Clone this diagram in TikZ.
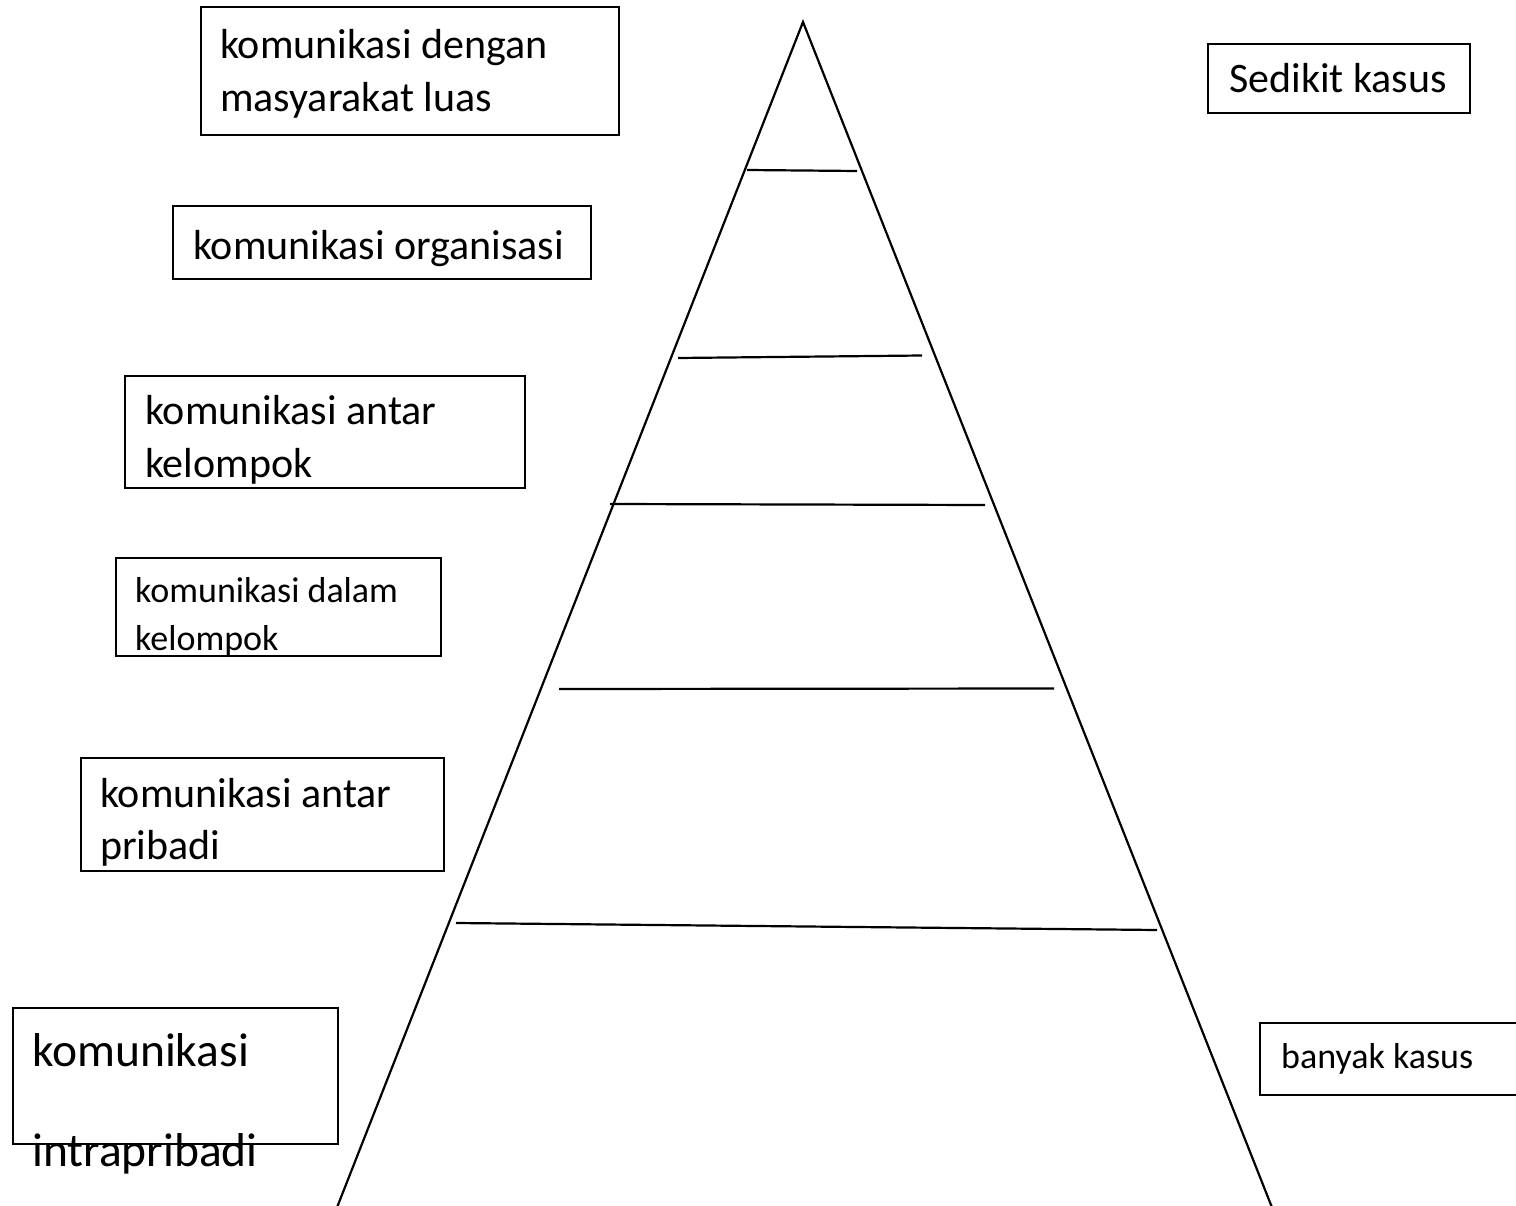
\documentclass[tikz,border=0pt]{standalone}
\usepackage{fontspec}
\setmainfont{Carlito}
\begin{document}
\begin{tikzpicture}[x=1pt,y=-1pt,
  frame/.style={draw, line width=2.2pt, inner sep=0pt, anchor=north west},
  lbl/.style={anchor=base west, inner sep=0pt, font=\fontsize{42}{50}\selectfont},
  lblsmall/.style={lbl, font=\fontsize{36}{43}\selectfont},
  lblbig/.style={lbl, font=\fontsize{47.5}{57}\selectfont},
  edge/.style={line width=2.2pt}]
\useasboundingbox (0,0) rectangle (1516,1206);
\clip (0,0) rectangle (1516,1206);
\fill[white] (0,0) rectangle (1516,1206);

% boxes
\node[frame, minimum width=418, minimum height=128] (b1) at (200,6) {};
\node[frame, minimum width=418, minimum height=73] (b2) at (172,205) {};
\node[frame, minimum width=400, minimum height=112] (b3) at (124,375) {};
\node[frame, minimum width=325, minimum height=98] (b4) at (115,557) {};
\node[frame, minimum width=363, minimum height=113] (b5) at (80,757) {};
\node[frame, minimum width=325, minimum height=136] (b6) at (12,1007) {};
\node[frame, minimum width=262, minimum height=69] (b7) at (1207,43) {};
\node[frame, minimum width=290, minimum height=72] (b8) at (1259,1022) {};

% texts
\node[lbl] (t1a) at (220,59) {komunikasi dengan};
\node[lbl] (t1b) at (220,112) {masyarakat luas};
\node[lbl] (t2) at (193,260) {komunikasi organisasi};
\node[lbl] (t3a) at (145,424) {komunikasi antar};
\node[lbl] (t3b) at (145,477) {kelompok};
\node[lblsmall] (t4a) at (135,602) {komunikasi dalam};
\node[lblsmall] (t4b) at (135,650) {kelompok};
\node[lbl] (t5a) at (100,807) {komunikasi antar};
\node[lbl] (t5b) at (100,859) {pribadi};
\node[lblbig] (t6a) at (32,1066) {komunikasi};
\node[lblbig] (t6b) at (32,1166) {intrapribadi};
\node[lbl] (t7) at (1229,93) {Sedikit kasus};
\node[lblsmall] (t8) at (1281,1068) {banyak kasus};

% pyramid
\coordinate (apex) at (803,22);
\coordinate (bl) at (336,1210);
\coordinate (br) at (1273,1210);
\draw[edge, line join=miter] (bl) -- (apex) -- (br);

\coordinate (l1a) at (747,170);  \coordinate (l1b) at (857,171);
\coordinate (l2a) at (678,358);  \coordinate (l2b) at (922,355.5);
\coordinate (l3a) at (610,504);  \coordinate (l3b) at (985,505);
\coordinate (l4a) at (559,689);  \coordinate (l4b) at (1054,688.5);
\coordinate (l5a) at (456,923);  \coordinate (l5b) at (1157,930);
\draw[edge] (l1a) -- (l1b);
\draw[edge] (l2a) -- (l2b);
\draw[edge] (l3a) -- (l3b);
\draw[edge] (l4a) -- (l4b);
\draw[edge] (l5a) -- (l5b);
\end{tikzpicture}
\end{document}
